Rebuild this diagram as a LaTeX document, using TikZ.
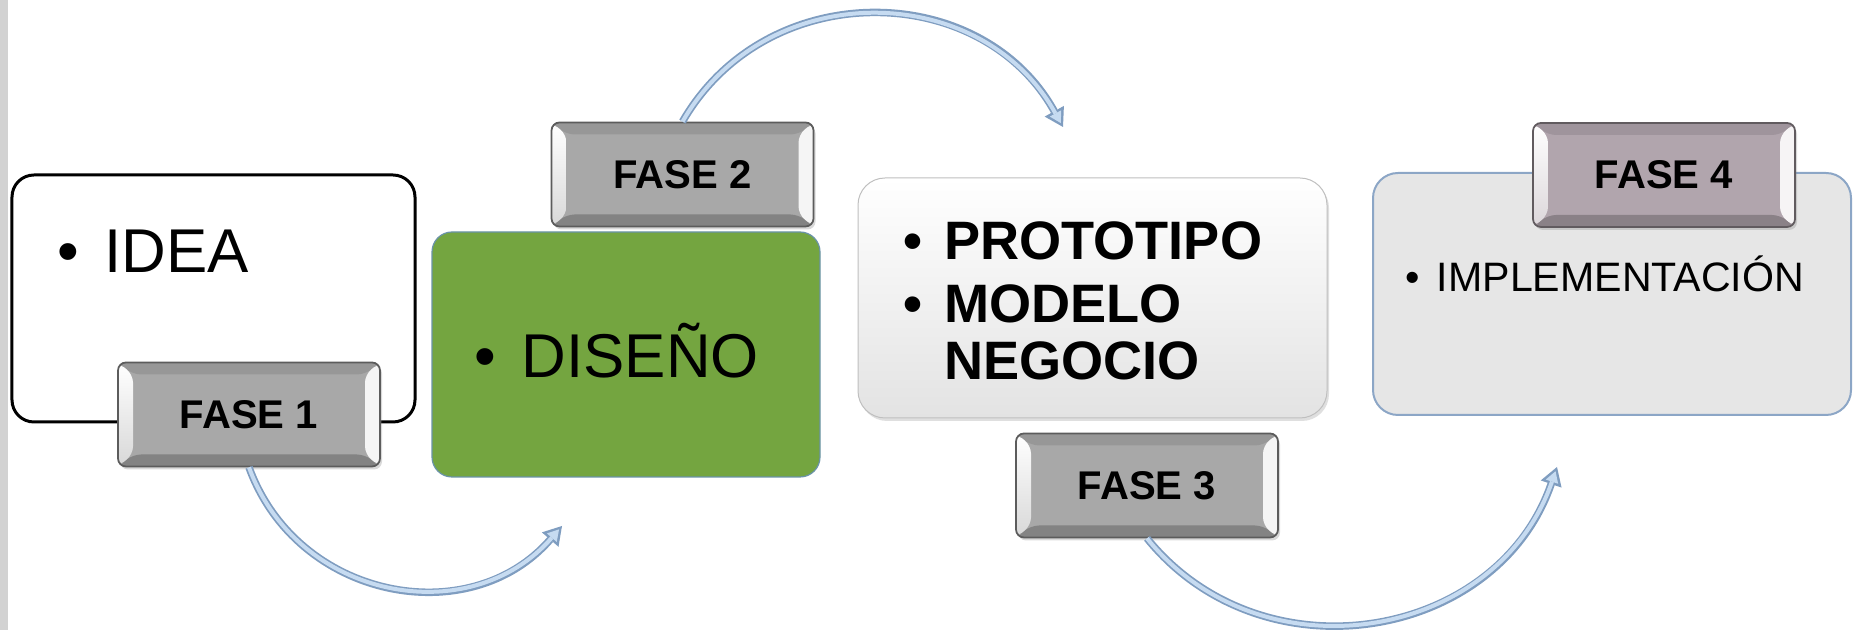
\documentclass[tikz,border=0pt]{standalone}
\usepackage{fontspec}
\setmainfont{Liberation Sans}
\usetikzlibrary{arrows.meta,shadows}

\definecolor{disenogreen}{HTML}{74A540}
\definecolor{disenoedge}{HTML}{6A93A8}
\definecolor{implfill}{HTML}{E6E6E6}
\definecolor{impledge}{HTML}{8CA6C6}
\definecolor{tagface}{HTML}{A8A8A8}
\definecolor{tagmauve}{HTML}{B1A5AD}
\definecolor{arrowfill}{HTML}{C6DBF1}
\definecolor{arrowedge}{HTML}{7F9DC0}
\definecolor{leftstrip}{HTML}{D2D2D2}

\newcommand{\bul}{\makebox[0.76em][l]{•}}

\tikzset{
  bevel/.style={path picture={
    \coordinate (bl) at (path picture bounding box.south west);
    \coordinate (br) at (path picture bounding box.south east);
    \coordinate (tl) at (path picture bounding box.north west);
    \coordinate (tr) at (path picture bounding box.north east);
    \fill[#1!90!black] (tl) -- (tr) -- ([shift={(-0.15,-0.12)}]tr) -- ([shift={(0.15,-0.12)}]tl) -- cycle;
    \fill[#1!78!black] (bl) -- (br) -- ([shift={(-0.15,0.12)}]br) -- ([shift={(0.15,0.12)}]bl) -- cycle;
    \shade[top color=white, bottom color=#1!45!white] (bl) -- ([shift={(0.15,0.12)}]bl) -- ([shift={(0.15,-0.12)}]tl) -- (tl) -- cycle;
    \fill[white!88!#1] (br) -- (tr) -- ([shift={(-0.15,-0.12)}]tr) -- ([shift={(-0.15,0.12)}]br) -- cycle;
  }},
  fasetag/.style={rounded corners=0.08cm, draw=#1!55!black, line width=0.5pt, fill=#1,
    minimum width=2.62cm, minimum height=1.04cm, inner sep=0pt,
    font=\fontsize{11.4}{13}\selectfont\bfseries, bevel=#1,
    drop shadow={opacity=0.3, shadow xshift=0.02cm, shadow yshift=-0.03cm}},
  ideabox/.style={draw=black, line width=0.03cm, rounded corners=0.22cm, fill=white,
    minimum width=4.03cm, minimum height=2.47cm},
  disenobox/.style={draw=disenoedge, line width=0.012cm, rounded corners=0.2cm, fill=disenogreen,
    minimum width=3.88cm, minimum height=2.45cm},
  protobox/.style={draw=gray!50, line width=0.01cm, rounded corners=0.27cm,
    top color=white, bottom color=gray!22, minimum width=4.69cm, minimum height=2.40cm,
    drop shadow={opacity=0.25, shadow xshift=0.02cm, shadow yshift=-0.03cm}},
  implbox/.style={draw=impledge, line width=0.02cm, rounded corners=0.25cm, fill=implfill,
    minimum width=4.78cm, minimum height=2.42cm},
  bigtext/.style={anchor=base west, inner sep=0pt, font=\fontsize{17.6}{20}\selectfont},
  boldtext/.style={anchor=base west, inner sep=0pt, font=\fontsize{15.4}{17}\selectfont\bfseries},
  smalltext/.style={anchor=base west, inner sep=0pt, font=\fontsize{11.7}{14}\selectfont},
  bendout/.style={draw=arrowedge, line width=0.075cm,
    -{Triangle[length=0.18cm, width=0.22cm, line width=0pt]}},
  bendin/.style={draw=arrowfill, line width=0.04cm, shorten >=0.045cm,
    -{Triangle[length=0.11cm, width=0.13cm, line width=0pt]}}
}

\begin{document}
\begin{tikzpicture}
  \useasboundingbox (0,0) rectangle (18.53,6.30);
  \fill[leftstrip] (0,0) rectangle (0.08,6.30);

  \node [ideabox] (idea) at (2.135, 3.315) {};
  \node [fasetag=tagface] (f1) at (2.49, 2.155) {FASE 1};
  \node [disenobox] (diseno) at (6.26, 2.755) {};
  \node [fasetag=tagface] (f2) at (6.825, 4.555) {FASE 2};
  \node [protobox] (proto) at (10.925, 3.32) {};
  \node [fasetag=tagface] (f3) at (11.47, 1.445) {FASE 3};
  \node [implbox] (impl) at (16.12, 3.36) {};
  \node [fasetag=tagmauve] (f4) at (16.64, 4.55) {FASE 4};

  \node [bigtext] (tidea) at (0.565, 3.57) {\bul IDEA};
  \node [bigtext] (tdiseno) at (4.74, 2.52) {\bul DISEÑO};
  \node [boldtext] (tproto) at (9.025, 3.70) {\bul PROTOTIPO};
  \node [boldtext] (tmodelo) at (9.025, 3.07) {\bul MODELO};
  \node [boldtext] (tnegocio) at (9.025, 2.50) {\phantom{\bul}NEGOCIO};
  \node [smalltext] (timpl) at (14.05, 3.38) {\bul IMPLEMENTACIÓN};

  \coordinate (e1) at (5.62, 1.04);
  \coordinate (e2) at (10.63, 5.03);
  \coordinate (e3) at (15.57, 1.63);

  \draw [bendout] (f1.south) to[out=-70, in=229, looseness=1.13] (e1);
  \draw [bendin] (f1.south) to[out=-70, in=229, looseness=1.13] (e1);
  \draw [bendout] (f2.north) to[out=60, in=119, looseness=1.13] (e2);
  \draw [bendin] (f2.north) to[out=60, in=119, looseness=1.13] (e2);
  \draw [bendout] (f3.south) to[out=-51, in=251, looseness=1.13] (e3);
  \draw [bendin] (f3.south) to[out=-51, in=251, looseness=1.13] (e3);
\end{tikzpicture}
\end{document}
